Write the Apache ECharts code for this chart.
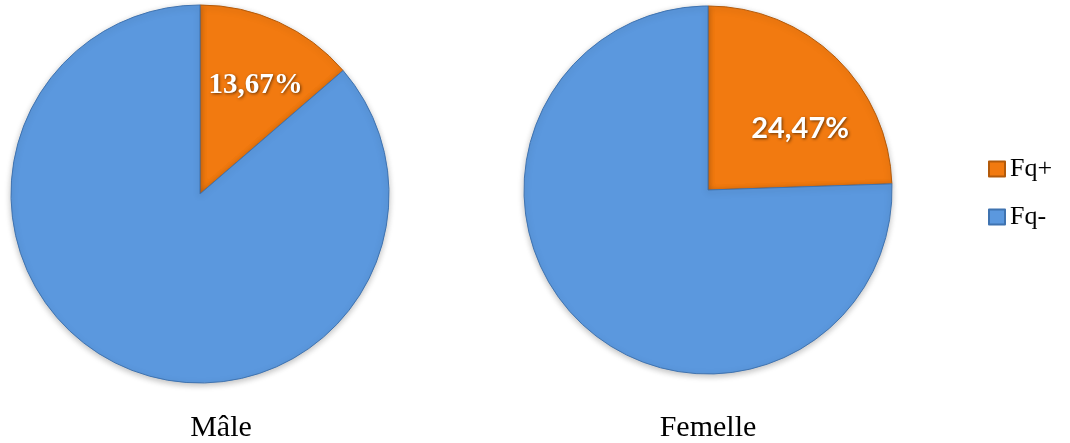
<!DOCTYPE html>
<html>
<head>
<meta charset="utf-8">
<style>
  html, body { margin: 0; padding: 0; background: #ffffff; }
  #chart { width: 1070px; height: 443px; }
</style>
<script src="https://cdn.jsdelivr.net/npm/echarts@6/dist/echarts.min.js"></script>
</head>
<body>
<div id="chart"></div>
<script>
// Categories and shares (%) per sex
const categories = ['Fq+', 'Fq-'];
const groups = ['Mâle', 'Femelle'];
const maleValues = [13.67, 86.33];
const femaleValues = [24.47, 75.53];
const sliceColors = ['#F27A10', '#5B98DE'];
const edgeColors = ['#B35A0A', '#3F73B0'];

const chart = echarts.init(document.getElementById('chart'));

function fmt(v) {
  return v.toFixed(2).replace('.', ',') + '%';
}

function pieData(values) {
  return values.map((v, i) => ({
    name: categories[i],
    value: v,
    itemStyle: { color: sliceColors[i], borderColor: edgeColors[i], borderWidth: 1 },
    label: { show: i === 0 }
  }));
}

function labelStyle(fontFamily, offset) {
  return {
    show: true,
    position: 'inside',
    offset: offset,
    formatter: p => fmt(p.value),
    color: '#ffffff',
    fontWeight: 'bold',
    fontFamily: fontFamily,
    fontSize: 29,
    textShadowColor: 'rgba(60,30,0,0.75)',
    textShadowBlur: 3,
    textShadowOffsetX: 1,
    textShadowOffsetY: 1
  };
}

chart.setOption({
  animation: false,
  title: [
    { text: groups[0], left: 216, top: 408, textAlign: 'center',
      textStyle: { fontFamily: 'Liberation Serif', fontWeight: 'normal', fontSize: 30, color: '#000' } },
    { text: groups[1], left: 703, top: 408, textAlign: 'center',
      textStyle: { fontFamily: 'Liberation Serif', fontWeight: 'normal', fontSize: 30, color: '#000' } }
  ],
  legend: {
    orient: 'vertical',
    left: 988,
    top: 156,
    padding: 0,
    itemWidth: 16,
    itemHeight: 15,
    itemGap: 22,
    icon: 'rect',
    data: categories,
    textStyle: { fontFamily: 'Liberation Serif', fontSize: 26, color: '#000', padding: [0, 0, 0, 0] }
  },
  series: [
    {
      type: 'pie',
      center: [200, 194],
      radius: [0, 189],
      startAngle: 90,
      clockwise: true,
      label: labelStyle('Liberation Serif', [15, -20]),
      labelLine: { show: false },
      itemStyle: { shadowBlur: 6, shadowColor: 'rgba(0,0,0,0.25)', shadowOffsetY: 2 },
      emphasis: { disabled: true },
      data: pieData(maleValues)
    },
    {
      type: 'pie',
      center: [708, 190],
      radius: [0, 184],
      startAngle: 90,
      clockwise: true,
      label: labelStyle('Lato', [26, 7]),
      labelLine: { show: false },
      itemStyle: { shadowBlur: 6, shadowColor: 'rgba(0,0,0,0.25)', shadowOffsetY: 2 },
      emphasis: { disabled: true },
      data: pieData(femaleValues)
    }
  ]
});
</script>
</body>
</html>
